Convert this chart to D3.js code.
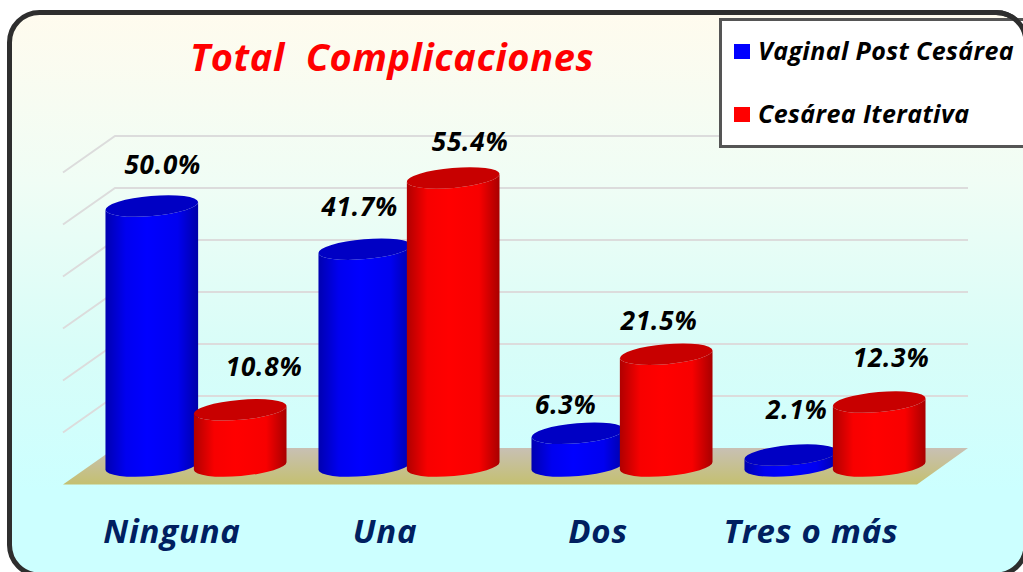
<!DOCTYPE html>
<html><head><meta charset="utf-8">
<script src="https://cdn.jsdelivr.net/npm/d3@7"></script>
<style>html,body{margin:0;padding:0;background:#fff;overflow:hidden}svg{display:block}text{font-family:"Open Sans",sans-serif;font-weight:700;font-style:italic}</style>
</head><body><svg id="c" width="1023" height="572"></svg>
<script>
const categories = ["Ninguna", "Una", "Dos", "Tres o más"];
const seriesNames = ["Vaginal Post Cesárea", "Cesárea Iterativa"];
const vaginal = [50.0, 41.7, 6.3, 2.1];
const iterativa = [10.8, 55.4, 21.5, 12.3];
const gridTicks = [0, 10, 20, 30, 40, 50, 60];
const title = "Total\u00a0\u00a0Complicaciones";

// layout
const baseY = 466, unit = 5.2, rx = 46.5, ry = 10, tilt = -5;
const svg = d3.select("#c");
const defs = svg.append("defs");
function grad(id, stops, vertical) {
  const g = defs.append("linearGradient").attr("id", id).attr("x1", 0).attr("y1", 0)
    .attr("x2", vertical ? 0 : 1).attr("y2", vertical ? 1 : 0);
  stops.forEach(s => g.append("stop").attr("offset", s[0]).attr("stop-color", s[1]));
}
grad("bg", [[0, "#fffbee"], [0.3, "#f0fdf5"], [0.6, "#d8fdf8"], [0.85, "#ccffff"], [1, "#ccffff"]], true);
grad("floor", [[0, "#c8c0b4"], [1, "#c4c070"]], true);
grad("blue", [[0, "#0000b0"], [0.22, "#0000f0"], [0.45, "#0000ff"], [0.78, "#0000f0"], [1, "#0000a8"]]);
grad("red", [[0, "#b00000"], [0.22, "#f80000"], [0.45, "#ff0000"], [0.78, "#f80000"], [1, "#a80000"]]);

svg.append("rect").attr("x", 9.5).attr("y", 12.5).attr("width", 1016.5).attr("height", 562.5)
  .attr("rx", 30).attr("fill", "url(#bg)").attr("stroke", "#2e2e2e").attr("stroke-width", 5);

const x = d3.scaleBand().domain(categories).range([106, 958]).paddingInner(0).paddingOuter(0);
const wall = d3.scaleLinear().domain([0, 60]).range([448, 448 - 60 * unit]);
const bar = d3.scaleLinear().domain([0, 60]).range([baseY, baseY - 60 * unit]);

// gridlines and side wall
const sx0 = 63, sx1 = 115, sx2 = 968, depth = 36.5;
const grid = svg.append("g").attr("fill", "none").attr("stroke", "#dcdcdc").attr("stroke-width", 2);
gridTicks.filter(d => d > 0).forEach(d => {
  grid.append("path").attr("d", `M${sx0},${wall(d) + depth}L${sx1},${wall(d)}L${sx2},${wall(d)}`);
});
// floor
svg.append("path")
  .attr("d", `M${sx0},${wall(0) + depth}L${sx1},${wall(0)}L${sx2},${wall(0)}L917,${wall(0) + depth}Z`)
  .attr("fill", "url(#floor)");

const a = tilt * Math.PI / 180, dx = rx * Math.cos(a), dy = rx * Math.sin(a);
function cylinder(cx, v, fillId, top) {
  const yT = bar(v), yB = bar(0);
  const g = svg.append("g");
  g.append("path").attr("fill", `url(#${fillId})`)
    .attr("d", `M${cx - dx},${yT - dy}L${cx - dx},${yB - dy}A${rx},${ry} ${tilt} 0 0 ${cx + dx},${yB + dy}L${cx + dx},${yT + dy}A${rx},${ry} ${tilt} 0 1 ${cx - dx},${yT - dy}Z`);
  g.append("ellipse").attr("rx", rx).attr("ry", ry).attr("fill", top)
    .attr("transform", `translate(${cx},${yT}) rotate(${tilt})`);
}
const blueOffset = 0.215, redOffset = 0.63;
categories.forEach((c, i) => {
  const bx = x(c) + x.bandwidth() * blueOffset, rxC = x(c) + x.bandwidth() * redOffset;
  cylinder(bx, vaginal[i], "blue", "#0000c4");
  cylinder(rxC, iterativa[i], "red", "#c80000");
});

// value labels
const labelShift = [[[11, -32], [24, -34]], [[-5, -33], [17, -27]], [[-12, -19], [-7, -24]], [[6, -36], [12, -35]]];
const fmt = d => d.toFixed(1) + "%";
categories.forEach((c, i) => {
  const centers = [x(c) + x.bandwidth() * blueOffset, x(c) + x.bandwidth() * redOffset];
  [vaginal[i], iterativa[i]].forEach((v, j) => {
    svg.append("text").attr("x", centers[j] + labelShift[i][j][0]).attr("y", bar(v) + labelShift[i][j][1])
      .attr("text-anchor", "middle").attr("font-size", 26).attr("letter-spacing", 0.8).attr("fill", "#000").text(fmt(v));
  });
});

// category labels
const catX = [172, 385, 598, 811];
categories.forEach((c, i) => {
  svg.append("text").attr("x", catX[i]).attr("y", 543).attr("text-anchor", "middle")
    .attr("font-size", 33).attr("letter-spacing", 0.8).attr("fill", "#002060").text(c);
});

// title
svg.append("text").attr("x", 392).attr("y", 71).attr("text-anchor", "middle")
  .attr("font-size", 38).attr("letter-spacing", 0.6).attr("fill", "#ff0000").text(title);

// legend
svg.append("rect").attr("x", 720.5).attr("y", 19.5).attr("width", 310).attr("height", 127)
  .attr("fill", "#fff").attr("stroke", "#555").attr("stroke-width", 3);
svg.append("path").attr("d", "M996,12.5 A30,30 0 0 1 1026,42.5").attr("fill", "none").attr("stroke", "#2e2e2e").attr("stroke-width", 5);
const legendColors = ["#0000ff", "#ff0000"], legendY = [44, 107];
seriesNames.forEach((s, i) => {
  svg.append("rect").attr("x", 734).attr("y", legendY[i]).attr("width", 16).attr("height", 15).attr("fill", legendColors[i]);
  svg.append("text").attr("x", 758).attr("y", legendY[i] + 16).attr("font-size", 25).attr("letter-spacing", 0.4).attr("fill", "#000").text(s);
});
</script></body></html>
